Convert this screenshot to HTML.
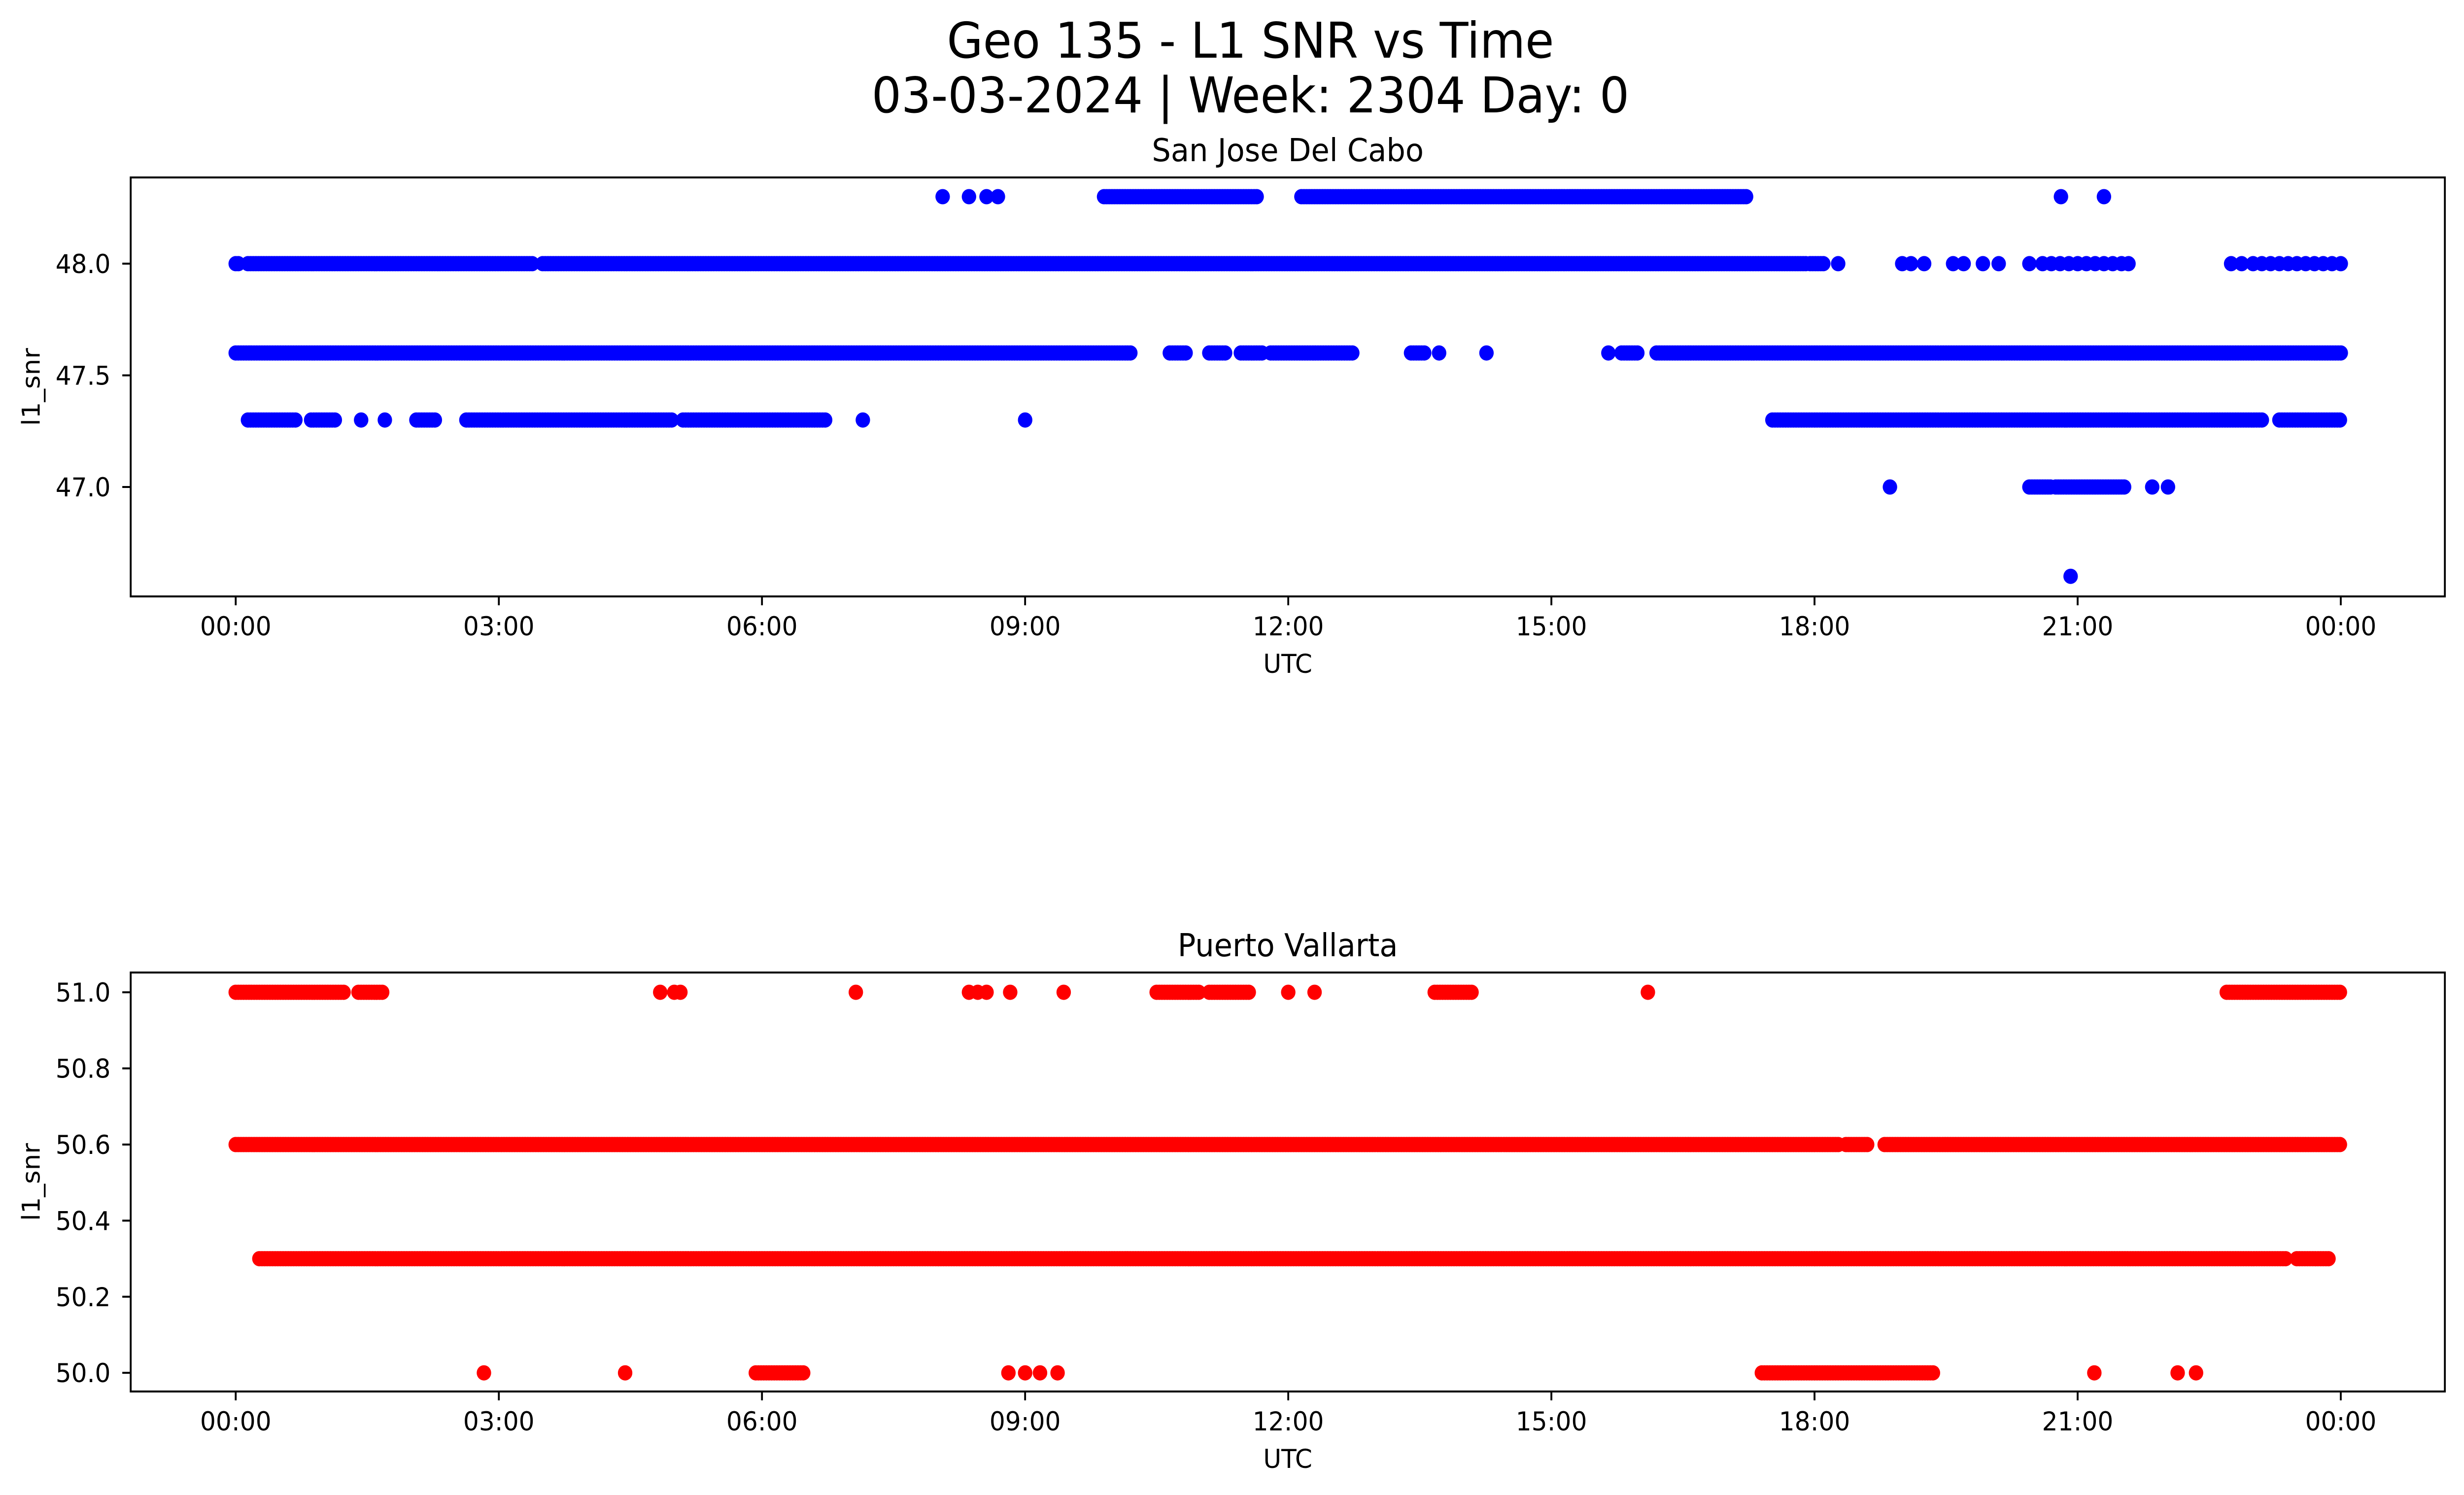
<!DOCTYPE html>
<html><head><meta charset="utf-8"><style>
html,body{margin:0;padding:0;background:#fff;overflow:hidden;}
svg{display:block;font-family:"DejaVu Sans","Liberation Sans",sans-serif;width:100vw;height:100vh;}
</style></head><body>
<svg id="fig" viewBox="0 0 5279 3033" preserveAspectRatio="none" xmlns="http://www.w3.org/2000/svg">
<rect width="5279" height="3033" fill="#fff"/>
<text x="2679" y="117" font-size="100" text-anchor="middle">Geo 135 - L1 SNR vs Time</text>
<text x="2679" y="228" font-size="100" text-anchor="middle">03-03-2024 | Week: 2304 Day: 0</text>
</svg>
<script>
// ---- data (hours UTC; runs are [start,end] spans of dense samples, singles are points) ----
const xTicks = [0,3,6,9,12,15,18,21,24];
const xTickLabels = ["00:00","03:00","06:00","09:00","12:00","15:00","18:00","21:00","00:00"];

const sjLevels = [48.3, 48.0, 47.6, 47.3, 47.0, 46.6];
const sjRuns = [
  [[9.9,11.66],[12.15,17.23]],
  [[0,0.03],[0.14,3.4],[3.5,17.9],[17.95,18.1]],
  [[0,10.2],[10.65,10.84],[11.1,11.3],[11.46,11.7],[11.8,12.75],[13.4,13.56],[15.8,16.0],[16.2,24]],
  [[0.14,0.68],[0.86,1.13],[2.06,2.27],[2.63,4.98],[5.1,6.72],[17.52,23.1],[23.3,24]],
  [[20.45,20.7],[20.75,21.53]],
  []
];
const sjSingles = [
  [8.06,8.36,8.56,8.69,20.81,21.30],
  [18.27,19.0,19.1,19.25,19.58,19.70,19.92,20.1,20.45,20.6,20.7,20.8,20.9,21.0,21.1,21.2,21.3,21.4,21.5,21.58,22.75,22.87,23.0,23.1,23.2,23.3,23.4,23.5,23.6,23.7,23.8,23.9,24.0],
  [13.72,14.26,15.65],
  [1.43,1.7,7.15,9.0],
  [18.86,21.85,22.03],
  [20.92]
];

const pvLevels = [51.0, 50.6, 50.3, 50.0];
const pvRuns = [
  [[0,1.25],[1.4,1.67],[10.5,11.0],[11.1,11.55],[13.67,14.1],[22.7,24]],
  [[0,18.27],[18.36,18.6],[18.8,24]],
  [[0.27,23.37],[23.5,23.88]],
  [[5.93,6.48],[17.4,19.35]]
];
const pvSingles = [
  [4.84,5.0,5.07,7.07,8.36,8.46,8.56,8.83,9.44,12.0,12.3,16.1],
  [],
  [],
  [2.83,4.44,8.81,9.0,9.17,9.37,21.19,22.14,22.35]
];

const sjYTicks = [47.0, 47.5, 48.0];
const pvYTicks = [50.0, 50.2, 50.4, 50.6, 50.8, 51.0];

// ---- layout ----
const NS = "http://www.w3.org/2000/svg";
const svg = document.getElementById('fig');
const L = 280, R = 5238;
const X0 = 505, PXH = (5015 - 505) / 24;
function xScale(h){ return X0 + h * PXH; }
function mk(tag, attrs, parent){
  const e = document.createElementNS(NS, tag);
  for (const k in attrs) e.setAttribute(k, attrs[k]);
  (parent || svg).appendChild(e);
  return e;
}

function drawPanel(cfg){
  const g = mk('g', {});
  
  
  const yScale = v => cfg.top + (cfg.ymax - v) / (cfg.ymax - cfg.ymin) * (cfg.bottom - cfg.top);
  const pts = mk('g', {fill: cfg.color}, g);
  
  
  const step = 0.03;
  cfg.levels.forEach((lv, i) => {
    const y = yScale(lv);
    cfg.runs[i].forEach(r => {
      for (let h = r[0]; h <= r[1] + 1e-9; h += step){
        const c = mk('circle', {cx: xScale(h).toFixed(1), cy: y.toFixed(1), r: 15.5}, pts);
        
        
      }
    });
    cfg.singles[i].forEach(h => {
      const c = mk('circle', {cx: xScale(h).toFixed(1), cy: y.toFixed(1), r: 15.5}, pts);
      
      
    });
  });
  const fr = mk('rect', {x: L, y: cfg.top, width: R - L, height: cfg.bottom - cfg.top, fill: 'none', stroke: '#000', 'stroke-width': 4}, g);
  
  
  xTicks.forEach((t, i) => {
    const x = xScale(t);
    const tk = mk('line', {x1: x, x2: x, y1: cfg.bottom, y2: cfg.bottom + 18, stroke: '#000', 'stroke-width': 4}, g);
    
    
    const tl = mk('text', {x: x, y: cfg.bottom + 79, 'font-size': 53, 'text-anchor': 'middle'}, g);
    tl.textContent = xTickLabels[i];
    
    
  });
  cfg.yticks.forEach(v => {
    const y = yScale(v);
    const tk = mk('line', {x1: L - 18, x2: L, y1: y, y2: y, stroke: '#000', 'stroke-width': 4}, g);
    
    
    const tl = mk('text', {x: 237, y: y + 19, 'font-size': 53, 'text-anchor': 'end'}, g);
    tl.textContent = v.toFixed(1);
    
    
  });
  const ttl = mk('text', {x: (L + R) / 2, y: cfg.top - 33, 'font-size': 64, 'text-anchor': 'middle'}, g);
  ttl.textContent = cfg.title;
  
  
  const xl = mk('text', {x: (L + R) / 2, y: cfg.bottom + 155, 'font-size': 53, 'text-anchor': 'middle'}, g);
  xl.textContent = 'UTC';
  
  
  const cy = (cfg.top + cfg.bottom) / 2;
  const yl = mk('text', {x: 0, y: 0, 'font-size': 53, 'text-anchor': 'middle', transform: 'translate(85,' + cy + ') rotate(-90)'}, g);
  yl.textContent = 'l1_snr';
  
  
}

drawPanel({name: 'san-jose-panel', title: 'San Jose Del Cabo', color: '#0000ff', top: 360, bottom: 1210, ymin: 46.51, ymax: 48.386,
  levels: sjLevels, runs: sjRuns, singles: sjSingles, yticks: sjYTicks});
drawPanel({name: 'puerto-vallarta-panel', title: 'Puerto Vallarta', color: '#ff0000', top: 1973, bottom: 2823, ymin: 49.951, ymax: 51.052,
  levels: pvLevels, runs: pvRuns, singles: pvSingles, yticks: pvYTicks});
</script>
</body></html>
